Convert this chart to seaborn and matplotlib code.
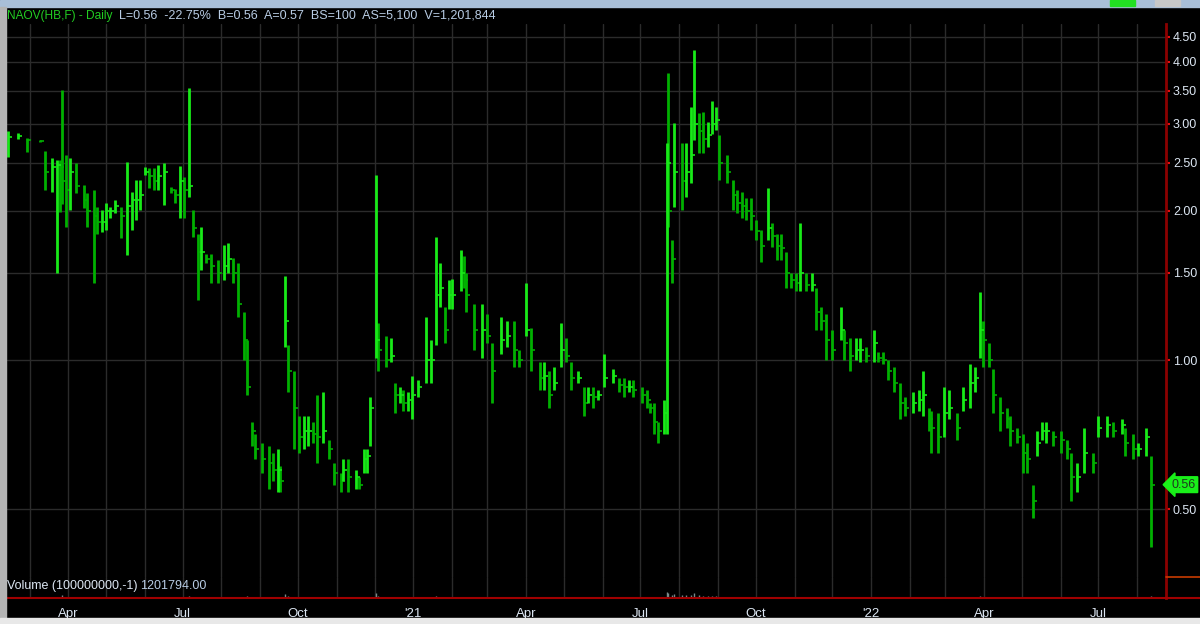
import matplotlib
matplotlib.use('Agg')
import matplotlib.pyplot as plt
import matplotlib.dates as mdates
from matplotlib.lines import Line2D
from matplotlib.patches import Rectangle
from matplotlib.ticker import FixedLocator, NullLocator, FuncFormatter
import seaborn as sns
import pandas as pd
import numpy as np

# price bars (first pass, one bar per few sessions)
dates = [
    '2020-02-13', '2020-02-21', '2020-02-28', '2020-03-09', '2020-03-13', '2020-03-19', '2020-03-23', '2020-03-25',
    '2020-03-27', '2020-03-30', '2020-04-02', '2020-04-07', '2020-04-13', '2020-04-16', '2020-04-21', '2020-04-24',
    '2020-05-01', '2020-05-08', '2020-05-13', '2020-05-18', '2020-05-22', '2020-05-28', '2020-06-01', '2020-06-08',
    '2020-06-16', '2020-06-22', '2020-06-29', '2020-07-02', '2020-07-06', '2020-07-09', '2020-07-13', '2020-07-16',
    '2020-07-24', '2020-08-03', '2020-08-10', '2020-08-14', '2020-08-19', '2020-08-21', '2020-08-25', '2020-09-02',
    '2020-09-08', '2020-09-15', '2020-09-21', '2020-09-23', '2020-09-28', '2020-10-02', '2020-10-09', '2020-10-16',
    '2020-10-21', '2020-10-26', '2020-10-30', '2020-11-04', '2020-11-10', '2020-11-16', '2020-11-23', '2020-11-27',
    '2020-12-02', '2020-12-04', '2020-12-10', '2020-12-17', '2020-12-24', '2020-12-31',
    '2021-01-05', '2021-01-11', '2021-01-15', '2021-01-19', '2021-01-22', '2021-01-26', '2021-02-01', '2021-02-08',
    '2021-02-12', '2021-02-25', '2021-03-05', '2021-03-12', '2021-03-22', '2021-04-01', '2021-04-05', '2021-04-12',
    '2021-04-19', '2021-04-29', '2021-05-07', '2021-05-17', '2021-05-24', '2021-05-28', '2021-06-02', '2021-06-09',
    '2021-06-18', '2021-06-25', '2021-07-02', '2021-07-09', '2021-07-15', '2021-07-20', '2021-07-22', '2021-07-23',
    '2021-07-26', '2021-07-28', '2021-08-03', '2021-08-10', '2021-08-13', '2021-08-20', '2021-08-27', '2021-09-02',
    '2021-09-08', '2021-09-13', '2021-09-20', '2021-09-27', '2021-10-05', '2021-10-11', '2021-10-18', '2021-10-25',
    '2021-11-02', '2021-11-05', '2021-11-10', '2021-11-18', '2021-11-26', '2021-12-01', '2021-12-08', '2021-12-15',
    '2021-12-23',
    '2022-01-03', '2022-01-10', '2022-01-19', '2022-01-24', '2022-02-03', '2022-02-11', '2022-02-18', '2022-02-28',
    '2022-03-10', '2022-03-21', '2022-03-29', '2022-03-31', '2022-04-08', '2022-04-14', '2022-04-22', '2022-05-02',
    '2022-05-10', '2022-05-13', '2022-05-20', '2022-06-01', '2022-06-09', '2022-06-20', '2022-06-27', '2022-07-08',
    '2022-07-20', '2022-07-29', '2022-08-08', '2022-08-12',
]
high = [
    2.90, 2.87, 2.81, 2.78, 2.64, 2.56, 2.54, 2.54, 3.51, 2.59, 2.56, 2.50, 2.26, 2.17, 2.20, 2.04,
    2.08, 2.10, 2.04, 2.51, 2.18, 2.31, 2.45, 2.44, 2.50, 2.24, 2.46, 2.34, 3.54, 2.01, 1.80, 1.86,
    1.64, 1.71, 1.61, 1.57, 1.25, 1.10, 0.75, 0.68, 0.67, 0.66, 1.48, 1.07, 0.95, 0.77, 0.77, 0.85,
    0.86, 0.69, 0.62, 0.59, 0.63, 0.60, 0.66, 0.84, 2.36, 1.19, 1.12, 0.90, 0.87, 0.93,
    0.91, 1.22, 1.10, 1.77, 1.57, 1.28, 1.46, 1.67, 1.50, 1.30, 1.08, 1.22, 1.20, 1.43, 1.16, 0.99,
    0.95, 1.19, 0.99, 0.88, 0.88, 0.87, 1.03, 0.96, 0.92, 0.91, 0.88, 0.82, 0.75, 0.83, 2.74, 3.80,
    1.75, 3.01, 2.74, 3.24, 4.23, 3.17, 3.33, 2.85, 2.60, 2.31, 2.18, 2.12, 1.83, 2.23, 1.80, 1.65,
    1.50, 1.89, 1.50, 1.40, 1.24, 1.15, 1.28, 1.11, 1.11,
    1.15, 1.04, 0.97, 0.90, 0.86, 0.95, 0.79, 0.88, 0.78, 0.98, 1.37, 1.20, 0.96, 0.84, 0.77, 0.71,
    0.56, 0.72, 0.75, 0.72, 0.65, 0.73, 0.65, 0.77, 0.76, 0.71, 0.73, 0.64,
]
low = [
    2.57, 2.80, 2.63, 2.76, 2.21, 2.18, 1.50, 1.99, 2.07, 1.86, 2.01, 2.17, 2.03, 1.86, 1.43, 1.80,
    1.83, 1.98, 1.76, 1.63, 1.83, 2.01, 2.36, 2.20, 2.06, 2.17, 1.94, 1.94, 2.13, 1.77, 1.32, 1.52,
    1.43, 1.45, 1.43, 1.22, 1.00, 0.85, 0.67, 0.59, 0.55, 0.54, 1.06, 0.86, 0.66, 0.65, 0.67, 0.62,
    0.68, 0.63, 0.56, 0.54, 0.54, 0.55, 0.59, 0.67, 1.01, 0.95, 0.97, 0.78, 0.79, 0.76,
    0.84, 0.90, 0.90, 1.07, 1.28, 1.08, 1.27, 1.38, 1.25, 1.01, 0.82, 1.03, 0.97, 1.12, 0.95, 0.87,
    0.80, 0.97, 0.87, 0.77, 0.80, 0.83, 0.88, 0.90, 0.84, 0.84, 0.82, 0.78, 0.68, 0.71, 0.71, 1.86,
    1.43, 2.04, 2.01, 2.28, 2.78, 2.62, 2.86, 2.31, 2.28, 2.01, 1.94, 1.83, 1.58, 1.75, 1.59, 1.40,
    1.38, 1.38, 1.38, 1.15, 1.00, 1.00, 1.10, 0.95, 0.99,
    0.99, 0.98, 0.86, 0.76, 0.78, 0.77, 0.65, 0.70, 0.69, 0.80, 1.01, 0.97, 0.78, 0.72, 0.67, 0.59,
    0.48, 0.64, 0.68, 0.65, 0.52, 0.59, 0.59, 0.70, 0.71, 0.63, 0.64, 0.42,
]
close = [
    2.82, 2.83, 2.78, 2.77, 2.40, 2.45, 2.48, 2.45, 2.30, 2.20, 2.40, 2.25, 2.10, 2.00, 1.95, 1.90,
    2.00, 2.05, 1.95, 2.05, 2.10, 2.15, 2.40, 2.30, 2.40, 2.20, 2.30, 2.20, 2.25, 1.85, 1.65, 1.65,
    1.55, 1.55, 1.50, 1.30, 1.10, 0.88, 0.72, 0.63, 0.62, 0.60, 1.20, 0.95, 0.80, 0.70, 0.72, 0.70,
    0.72, 0.66, 0.59, 0.57, 0.58, 0.58, 0.63, 0.80, 1.10, 1.05, 1.00, 0.85, 0.82, 0.85,
    0.88, 1.00, 1.00, 1.35, 1.40, 1.15, 1.35, 1.50, 1.35, 1.15, 0.95, 1.10, 1.05, 1.15, 1.05, 0.92,
    0.85, 1.05, 0.92, 0.82, 0.84, 0.85, 0.92, 0.93, 0.88, 0.87, 0.85, 0.80, 0.72, 0.78, 2.50, 2.00,
    1.60, 2.40, 2.30, 2.60, 3.00, 2.80, 3.00, 2.50, 2.40, 2.15, 2.05, 1.95, 1.70, 1.85, 1.70, 1.50,
    1.43, 1.50, 1.42, 1.25, 1.10, 1.05, 1.15, 1.02, 1.05,
    1.08, 1.00, 0.90, 0.82, 0.82, 0.85, 0.73, 0.78, 0.73, 0.90, 1.15, 1.10, 0.85, 0.78, 0.72, 0.65,
    0.52, 0.68, 0.72, 0.69, 0.58, 0.65, 0.62, 0.74, 0.74, 0.66, 0.70, 0.56,
]
# volume in millions of shares (barely visible strip)
volume = [
    4, 4, 3, 3, 5, 5, 6, 5, 12, 6, 5, 5, 4, 4, 6, 4,
    4, 3, 4, 7, 4, 4, 4, 4, 5, 3, 5, 4, 10, 6, 7, 5,
    4, 4, 4, 6, 7, 8, 6, 5, 5, 5, 20, 8, 6, 5, 4, 5,
    5, 4, 5, 4, 4, 4, 5, 7, 25, 9, 6, 5, 4, 4,
    4, 6, 5, 10, 7, 5, 5, 6, 5, 5, 5, 4, 4, 6, 4, 4,
    4, 5, 4, 4, 3, 3, 4, 3, 3, 3, 3, 3, 4, 4, 30, 25,
    12, 18, 15, 16, 22, 10, 9, 7, 6, 5, 5, 5, 5, 7, 5, 5,
    4, 6, 4, 4, 4, 4, 4, 4, 3,
    4, 4, 4, 4, 4, 4, 4, 4, 4, 5, 10, 6, 5, 4, 4, 4,
    6, 4, 4, 4, 5, 4, 4, 4, 4, 4, 4, 8,
]

# second pass: sessions in between the bars above
extra_dates = [
    '2020-04-28', '2020-05-04', '2020-05-25', '2020-06-04', '2020-06-11', '2020-06-25', '2020-07-20', '2020-07-29',
    '2020-08-06', '2020-08-28', '2020-09-11', '2020-09-17', '2020-10-06', '2020-10-13', '2020-11-06', '2020-11-19',
    '2020-11-25', '2020-12-14', '2020-12-21', '2020-12-28',
    '2021-01-29', '2021-02-10', '2021-02-18', '2021-03-01', '2021-03-17', '2021-03-26', '2021-04-15', '2021-04-23',
    '2021-05-03', '2021-05-12', '2021-05-20', '2021-06-14', '2021-06-22', '2021-07-06', '2021-07-12', '2021-08-06',
    '2021-08-17', '2021-08-24', '2021-08-30', '2021-09-16', '2021-09-23', '2021-10-01', '2021-10-14', '2021-10-21',
    '2021-10-29', '2021-11-15', '2021-11-22', '2021-12-10', '2021-12-20', '2021-12-28',
    '2022-01-06', '2022-01-14', '2022-01-28', '2022-02-08', '2022-02-16', '2022-02-23', '2022-03-04', '2022-03-15',
    '2022-03-25', '2022-04-05', '2022-04-19', '2022-04-27', '2022-05-05', '2022-05-17', '2022-05-26', '2022-06-06',
    '2022-06-14', '2022-07-01', '2022-07-13', '2022-07-22', '2022-08-02',
]
extra_high = [
    2.01, 2.04, 2.31, 2.44, 2.48, 2.22, 1.64, 1.59, 1.72, 0.71, 0.65, 0.61, 0.77, 0.75, 0.63, 0.58,
    0.66, 1.11, 0.88, 0.86,
    1.45, 1.62, 1.30, 1.24, 1.20, 1.05, 0.99, 0.97, 1.11, 0.95, 0.88, 0.92, 0.91, 0.87, 0.82, 2.74,
    3.15, 3.03, 3.24, 2.20, 2.12, 1.92, 1.89, 1.80, 1.50, 1.50, 1.28, 1.15, 1.11, 1.06,
    1.04, 1.00, 0.84, 0.87, 0.80, 0.78, 0.87, 0.88, 0.97, 1.08, 0.80, 0.73, 0.68, 0.75, 0.72, 0.69,
    0.62, 0.77, 0.75, 0.73, 0.68,
]
extra_low = [
    1.81, 1.94, 1.92, 2.23, 2.20, 2.08, 1.57, 1.43, 1.50, 0.63, 0.57, 0.54, 0.66, 0.68, 0.57, 0.55,
    0.59, 0.99, 0.82, 0.79,
    1.27, 1.40, 1.05, 1.08, 1.06, 0.97, 0.87, 0.87, 0.99, 0.90, 0.82, 0.86, 0.86, 0.80, 0.71, 2.13,
    2.62, 2.69, 2.91, 1.98, 1.92, 1.75, 1.69, 1.59, 1.40, 1.38, 1.15, 1.00, 1.00, 0.99,
    0.99, 0.91, 0.77, 0.79, 0.72, 0.65, 0.76, 0.79, 0.86, 0.97, 0.73, 0.68, 0.59, 0.69, 0.67, 0.63,
    0.54, 0.70, 0.70, 0.64, 0.64,
]
extra_close = [
    1.90, 2.00, 2.10, 2.35, 2.35, 2.15, 1.60, 1.50, 1.60, 0.66, 0.60, 0.57, 0.72, 0.71, 0.60, 0.56,
    0.64, 1.02, 0.85, 0.83,
    1.35, 1.45, 1.15, 1.12, 1.12, 1.00, 0.93, 0.90, 1.02, 0.92, 0.85, 0.89, 0.88, 0.83, 0.75, 2.40,
    2.90, 2.85, 3.05, 2.08, 2.00, 1.82, 1.78, 1.68, 1.45, 1.42, 1.20, 1.08, 1.05, 1.02,
    1.01, 0.95, 0.80, 0.83, 0.76, 0.70, 0.80, 0.83, 0.92, 1.00, 0.76, 0.70, 0.63, 0.72, 0.70, 0.66,
    0.58, 0.73, 0.72, 0.68, 0.66,
]
extra_volume = [
    4, 4, 4, 4, 4, 3, 4, 4, 4, 5, 5, 5, 4, 4, 4, 4,
    4, 6, 5, 4,
    5, 6, 5, 5, 4, 4, 4, 4, 5, 4, 3, 3, 3, 3, 3, 14,
    12, 10, 11, 5, 5, 5, 5, 5, 5, 4, 4, 4, 4, 3,
    4, 4, 4, 4, 4, 4, 4, 4, 5, 6, 4, 4, 5, 4, 4, 4,
    5, 4, 4, 4, 4,
]
price_ticks = [0.5, 1.0, 1.5, 2.0, 2.5, 3.0, 3.5, 4.0, 4.5]
last_price = 0.56

df = pd.concat([
    pd.DataFrame({'date': dates, 'high': high, 'low': low, 'close': close, 'volume': volume}),
    pd.DataFrame({'date': extra_dates, 'high': extra_high, 'low': extra_low,
                  'close': extra_close, 'volume': extra_volume}),
], ignore_index=True)
df['date'] = pd.to_datetime(df['date'])
df = df.sort_values('date').reset_index(drop=True)
df['up'] = df['close'] >= df['close'].shift(1).fillna(df['close'])

sns.set_theme(style='dark', rc={'axes.facecolor': 'black', 'figure.facecolor': 'black',
                                'grid.color': '#2b2b2b', 'grid.linewidth': 1.0})
plt.rcParams['font.family'] = ['Liberation Sans', 'DejaVu Sans']

W, H = 1200, 624
fig = plt.figure(figsize=(12, 6.24), dpi=100)
fig.set_facecolor('black')

def fx(x):
    return x / W

def fy(y):
    return 1 - y / H

ax = fig.add_axes([fx(7), fy(577), fx(1166 - 7), (577 - 24) / H])
axv = fig.add_axes([fx(7), fy(598), fx(1166 - 7), 21 / H], sharex=ax)

bright = '#18ea18'
dark = '#00b000'
for flag, col in [(False, dark), (True, bright)]:
    sub = df[df['up'] == flag]
    ax.vlines(sub['date'], sub['low'], sub['high'], color=col, lw=2.0)
    ax.plot(sub['date'], sub['close'], ls='none', marker=1, ms=3, mew=1.2, color=col)

ax.set_yscale('log')
ax.set_ylim(np.exp((360 - 577) / 215), np.exp((360 - 24) / 215))
ax.set_xlim(pd.Timestamp('2020-02-12'), pd.Timestamp('2022-08-24'))
ax.yaxis.tick_right()
ax.yaxis.set_major_locator(FixedLocator(price_ticks))
ax.yaxis.set_minor_locator(NullLocator())
ax.yaxis.set_major_formatter(FuncFormatter(lambda v, p: '%.2f' % v))
ax.tick_params(axis='y', which='major', colors='#e01010', labelcolor='#dce6f2',
               length=3, width=1.5, pad=2, labelsize=9, right=True, left=False)
ax.tick_params(axis='x', which='both', length=0, labelbottom=False)
ax.grid(True, which='both', axis='both', color='#2b2b2b', lw=1)
for s in ['top', 'left', 'bottom']:
    ax.spines[s].set_visible(False)
ax.spines['right'].set_color('#8b0000')
ax.spines['right'].set_linewidth(2)

# last price marker
ax.annotate('%.2f' % last_price, xy=(1.0, last_price), xycoords=('axes fraction', 'data'),
            xytext=(4, 0), textcoords='offset points', va='center', ha='left',
            color='#1e3a1e', fontsize=9,
            bbox=dict(boxstyle='larrow,pad=0.15', fc='#19f019', ec='#19f019'))

# volume strip
axv.vlines(df['date'], 0, df['volume'], color='#7a8a8a', lw=1.0)
axv.set_ylim(0, 100)
axv.yaxis.set_visible(False)
axv.xaxis.set_major_locator(mdates.MonthLocator(bymonth=[1, 4, 7, 10]))
axv.xaxis.set_minor_locator(mdates.MonthLocator())

def month_label(v, p):
    d = mdates.num2date(v)
    if d.month == 1:
        return "'%02d" % (d.year % 100)
    return d.strftime('%b')

axv.xaxis.set_major_formatter(FuncFormatter(month_label))
axv.tick_params(axis='x', which='major', colors='#e01010', labelcolor='#dce6f2',
                length=6, width=1.2, labelsize=9.5, pad=1)
axv.tick_params(axis='x', which='minor', colors='#e01010', length=3, width=1.2)
axv.grid(True, which='both', axis='x', color='#2b2b2b', lw=1)
axv.grid(False, axis='y')
axv.spines['top'].set_visible(False)
axv.spines['left'].set_visible(False)
axv.spines['bottom'].set_color('#a00000')
axv.spines['bottom'].set_linewidth(1.5)
axv.spines['right'].set_color('#8b0000')
axv.spines['right'].set_linewidth(2)

# frame pieces around the chart
fig.add_artist(Line2D([fx(1166), 1], [fy(577), fy(577)], color='#c83c00', lw=1.2))
fig.add_artist(Line2D([fx(1166), 1], [fy(598), fy(598)], color='#a00000', lw=1.5))
fig.add_artist(Rectangle((0, fy(7)), 1, 7 / H, color='#a9bfd8', zorder=0))
fig.add_artist(Rectangle((fx(1110), fy(6)), fx(25), 6 / H, color='#22e022'))
fig.add_artist(Rectangle((fx(1155), fy(6)), fx(25), 6 / H, color='#c8c8c8'))
fig.add_artist(Rectangle((0, fy(618)), fx(6), (618 - 7) / H, color='#b4b4b4'))
fig.add_artist(Rectangle((0, 0), 1, 6 / H, color='#e8e8e8'))

# header and volume caption
fig.text(fx(7), fy(16), 'NAOV(HB,F) - Daily', color='#22cc22', fontsize=8.6, va='center')
fig.text(fx(119), fy(16), 'L=0.56  -22.75%  B=0.56  A=0.57  BS=100  AS=5,100  V=1,201,844',
         color='#b8cce4', fontsize=9, va='center')
fig.text(fx(7), fy(586), 'Volume (100000000,-1)', color='#dce6f2', fontsize=9, va='center')
fig.text(fx(140), fy(586), '1201794.00', color='#b8cce4', fontsize=9, va='center')

fig.savefig('out.png', dpi=100, facecolor=fig.get_facecolor())
